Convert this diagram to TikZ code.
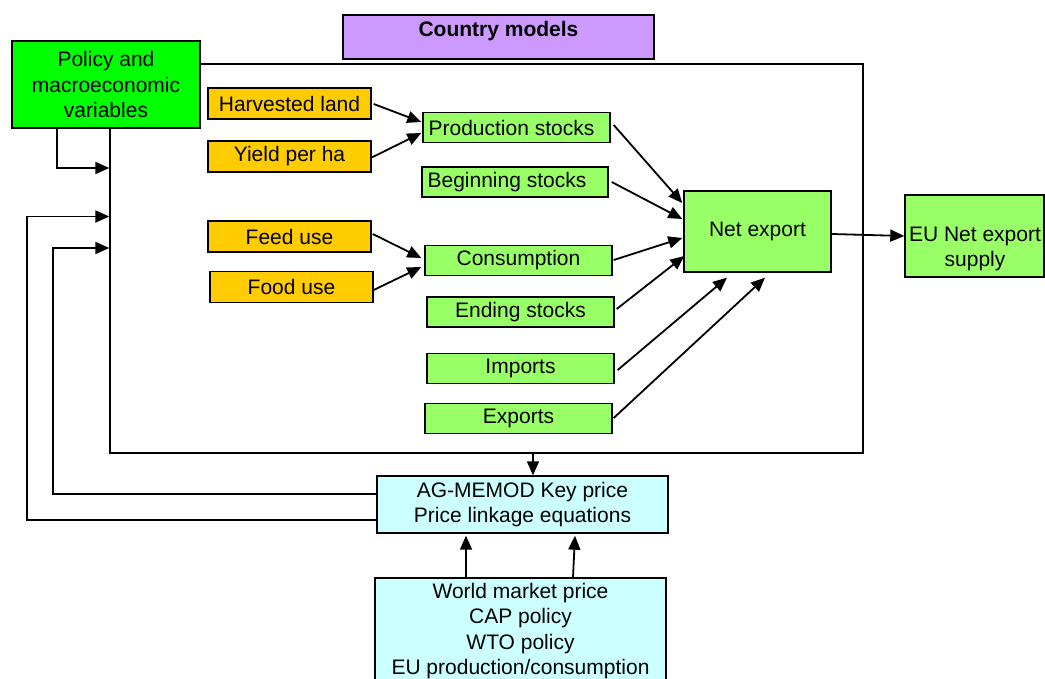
\documentclass[tikz,border=0pt]{standalone}
\usepackage{fontspec}
\setmainfont{Liberation Sans}
\usetikzlibrary{arrows.meta,calc}
\definecolor{orng}{HTML}{FFCC00}
\definecolor{lgreen}{HTML}{99FF66}
\definecolor{bgreen}{HTML}{00FF00}
\definecolor{purp}{HTML}{CC99FF}
\definecolor{lcyan}{HTML}{CCFFFF}
\begin{document}
\begin{tikzpicture}[x=1pt,y=-1pt,
  bx/.style={draw=black, line width=1.4pt, inner sep=0pt, align=center, font=\fontsize{21}{25.5}\selectfont},
  ob/.style={bx, fill=orng, minimum width=163pt, minimum height=31pt},
  gb/.style={bx, fill=lgreen, minimum width=187pt, minimum height=30pt},
  cb/.style={bx, fill=lcyan, minimum width=291pt},
  txt/.style={inner sep=0pt, align=center, font=\fontsize{21}{25.5}\selectfont},
  arr/.style={line width=1.8pt, -{Triangle[length=14pt,width=12pt]}},
  ln/.style={line width=1.3pt}]
\fill[white] (0,0) rectangle (1045,679);
\useasboundingbox (0,0) rectangle (1045,679);

% frame of country models
\node[draw, line width=1.4pt, inner sep=0pt, minimum width=753pt, minimum height=389pt] (frame) at (486.5,258.5) {};

% top boxes
\node[bx, fill=purp, minimum width=311pt, minimum height=44pt] (country) at (498.5,37)
  {\raisebox{6pt}[\height][\depth]{\bfseries Country models}};
\node[bx, fill=bgreen, minimum width=188pt, minimum height=87pt] (pol) at (106,84.5)
  {Policy and\\macroeconomic\\variables};

% orange inputs
\node[ob] (hl) at (289.5,103.5) {Harvested land};
\node[ob] (yph) at (289.5,156.5) {Yield per ha};
\node[ob] (feed) at (289.5,236.5) {Feed use};
\node[ob] (food) at (291.5,287) {Food use};

% green items
\node[gb] (prod) at (516.5,127.5) {\hspace*{-10pt}Production stocks};
\node[gb, minimum width=186pt] (beg) at (515,182) {\hspace*{-16pt}Beginning stocks};
\node[gb] (cons) at (518.5,260.5) {Consumption};
\node[gb] (end) at (520.5,312) {Ending stocks};
\node[gb] (imp) at (520.5,368.5) {Imports};
\node[gb] (exp) at (518.5,418.5) {Exports};
\node[bx, fill=lgreen, minimum width=147pt, minimum height=81pt] (net) at (757.5,231.5) {Net export};
\node[bx, fill=lgreen, minimum width=139pt, minimum height=82pt] (eu) at (974.5,236) {};
\node[txt] (eut) at (975,249) {EU Net export\\supply};

% price boxes
\node[cb, minimum height=57pt] (agm) at (522.5,504.5) {AG-MEMOD Key price\\Price linkage equations};
\node[cb, minimum height=106pt] (wmp) at (520.5,631)
  {World market price\\CAP policy\\WTO policy\\EU production/consumption};

% arrows into production / consumption
\draw[arr] ($(hl.east)+(2,0.5)$) -- ($(prod.west)+(-1,-5.5)$);
\draw[arr] ($(yph.east)+(-1,1.5)$) -- ($(prod.west)+(-1,5.5)$);
\draw[arr] ($(feed.east)+(1,-2.5)$) -- ($(cons.west)+(-3,-2.5)$);
\draw[arr] ($(food.east)+(0,3)$) -- ($(cons.west)+(-3,6.5)$);

% arrows into net export
\draw[arr] ($(prod.east)+(3,-2.5)$) -- ($(net.west)+(-1,-28.5)$);
\draw[arr] ($(beg.east)+(3,0)$) -- ($(net.west)+(-1,-12.5)$);
\draw[arr] ($(cons.east)+(1,-0.5)$) -- ($(net.west)+(-1,6.5)$);
\draw[arr] ($(end.east)+(2,-3)$) -- ($(net.west)+(1,24.5)$);
\draw[arr] ($(imp.east)+(3,1.5)$) -- ($(net.south)+(-30.5,5)$);
\draw[arr] ($(exp.east)+(1,-0.5)$) -- ($(net.south)+(7.5,5)$);
\draw[arr] (net.east |- 0,234) -- (eu.west |- 0,236);

% policy and feedback arrows into the frame
\draw[arr] (pol.south -| 57,0) |- (frame.west |- 0,168);
\draw[arr] (agm.west |- 0,520) -| (27,216.5) -- (frame.west |- 0,216.5);
\draw[arr] (agm.west |- 0,494) -| (53,248) -- (frame.west |- 0,248);

% frame to price block and price inputs
\draw[arr] (frame.south -| 533,0) -- (agm.north -| 533,0);
\draw[arr] (wmp.north -| 466,0) -- ($(agm.south -| 466,0)+(0,2)$);
\draw[arr] (wmp.north -| 573,0) -- ($(agm.south -| 575,0)+(0,2)$);
\end{tikzpicture}
\end{document}
